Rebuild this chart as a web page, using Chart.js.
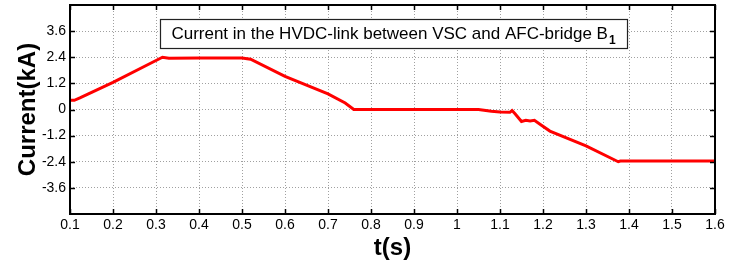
<!DOCTYPE html>
<html>
<head>
<meta charset="utf-8">
<script src="https://cdn.jsdelivr.net/npm/chart.js@4/dist/chart.umd.min.js"></script>
<style>
  html, body { margin: 0; padding: 0; background: #fff; }
  #wrap { width: 729px; height: 265px; }
</style>
</head>
<body>
<div id="wrap"><canvas id="currentChart" width="729" height="265"></canvas></div>
<script>
// values
const times = [0.1, 0.11, 0.123, 0.2, 0.3, 0.315, 0.33, 0.4, 0.5, 0.52, 0.6, 0.7, 0.74, 0.76, 0.8, 0.9, 1.0, 1.05, 1.08, 1.1, 1.123, 1.128, 1.135, 1.15, 1.16, 1.17, 1.18, 1.193, 1.216, 1.3, 1.375, 1.38, 1.5, 1.6];
const current = [0.42, 0.42, 0.53, 1.25, 2.25, 2.4, 2.35, 2.36, 2.37, 2.31, 1.52, 0.72, 0.3, 0.0, 0.0, 0.0, 0.0, 0.0, -0.08, -0.12, -0.13, -0.05, -0.2, -0.55, -0.5, -0.53, -0.5, -0.68, -0.99, -1.67, -2.4, -2.37, -2.37, -2.37];

const xTicks = [0.1, 0.2, 0.3, 0.4, 0.5, 0.6, 0.7, 0.8, 0.9, 1.0, 1.1, 1.2, 1.3, 1.4, 1.5, 1.6];
const xTickLabels = ['0.1', '0.2', '0.3', '0.4', '0.5', '0.6', '0.7', '0.8', '0.9', '1', '1.1', '1.2', '1.3', '1.4', '1.5', '1.6'];
const yTicks = [-3.6, -2.4, -1.2, 0, 1.2, 2.4, 3.6];
const yTickLabels = ['-3.6', '-2.4', '-1.2', '0', '1.2', '2.4', '3.6'];

const titleText = 'Current in the HVDC-link between VSC and AFC-bridge B';
const titleSub = '1';

const FONT = '"Liberation Sans", Arial, sans-serif';

// frame, inward tick marks and the boxed title
const matlabFrame = {
    id: 'matlabFrame',
    afterDraw(chart) {
        const { ctx, chartArea: a, scales } = chart;
        ctx.save();
        ctx.strokeStyle = '#000';
        ctx.lineWidth = 1.5;
        const tl = 5;
        ctx.beginPath();
        xTicks.forEach(v => {
            const px = Math.round(scales.x.getPixelForValue(v)) + 0.5;
            ctx.moveTo(px, a.bottom); ctx.lineTo(px, a.bottom - tl);
            ctx.moveTo(px, a.top); ctx.lineTo(px, a.top + tl);
        });
        yTicks.forEach(v => {
            const py = Math.round(scales.y.getPixelForValue(v)) + 0.5;
            ctx.moveTo(a.left, py); ctx.lineTo(a.left + tl, py);
            ctx.moveTo(a.right, py); ctx.lineTo(a.right - tl, py);
        });
        ctx.stroke();

        ctx.lineWidth = 2;
        ctx.strokeRect(a.left, a.top, a.right - a.left, a.bottom - a.top);

        // title box
        const bx = 160, by = 19, bw = 467, bh = 29;
        ctx.fillStyle = '#fff';
        ctx.fillRect(bx, by, bw, bh);
        ctx.lineWidth = 1.2;
        ctx.strokeStyle = '#222';
        ctx.strokeRect(bx + 0.5, by + 0.5, bw, bh);

        ctx.fillStyle = '#000';
        ctx.font = '17px ' + FONT;
        ctx.textBaseline = 'alphabetic';
        ctx.textAlign = 'left';
        const w = ctx.measureText(titleText).width;
        ctx.font = 'bold 12px ' + FONT;
        const ws = ctx.measureText(titleSub).width;
        const tx = bx + (bw - w - ws - 1) / 2;
        ctx.font = '17px ' + FONT;
        ctx.fillText(titleText, tx, by + 20);
        ctx.font = 'bold 12px ' + FONT;
        ctx.fillText(titleSub, tx + w + 1, by + 25);
        ctx.restore();
    }
};

const ctx = document.getElementById('currentChart').getContext('2d');
new Chart(ctx, {
    type: 'line',
    data: {
        datasets: [{
            label: 'Current',
            data: times.map((t, i) => ({ x: t, y: current[i] })),
            borderColor: '#ff0000',
            borderWidth: 3,
            pointRadius: 0,
            tension: 0,
            fill: false
        }]
    },
    options: {
        responsive: false,
        animation: false,
        layout: { padding: { top: 5, right: 14, left: 0, bottom: 0 } },
        plugins: {
            legend: { display: false },
            tooltip: { enabled: false }
        },
        scales: {
            x: {
                type: 'linear',
                min: 0.1,
                max: 1.6,
                afterBuildTicks: axis => { axis.ticks = xTicks.map(v => ({ value: v })); },
                afterFit: axis => { axis.height = 51; axis.paddingLeft = 0; axis.paddingRight = 0; },
                ticks: {
                    autoSkip: false,
                    maxRotation: 0,
                    padding: 3,
                    color: '#000',
                    font: { family: FONT, size: 14 },
                    callback: (v, i) => xTickLabels[i]
                },
                grid: { color: '#a0a0a0', lineWidth: 1, drawTicks: false },
                border: { display: false, dash: [1, 2] },
                title: {
                    display: true,
                    text: 't(s)',
                    color: '#000',
                    font: { family: FONT, size: 24, weight: 'bold' },
                    padding: { top: 0, bottom: 2 }
                }
            },
            y: {
                min: -4.8,
                max: 4.8,
                afterBuildTicks: axis => { axis.ticks = yTicks.map(v => ({ value: v })); },
                afterFit: axis => { axis.width = 70; axis.paddingTop = 0; axis.paddingBottom = 0; },
                ticks: {
                    autoSkip: false,
                    padding: 4,
                    color: '#000',
                    font: { family: FONT, size: 14 },
                    callback: (v, i) => yTickLabels[i]
                },
                grid: { color: '#a0a0a0', lineWidth: 1, drawTicks: false },
                border: { display: false, dash: [1, 2] },
                title: {
                    display: true,
                    text: 'Current(kA)',
                    color: '#000',
                    font: { family: FONT, size: 24, weight: 'bold' },
                    padding: 14
                }
            }
        }
    },
    plugins: [matlabFrame]
});
</script>
</body>
</html>
